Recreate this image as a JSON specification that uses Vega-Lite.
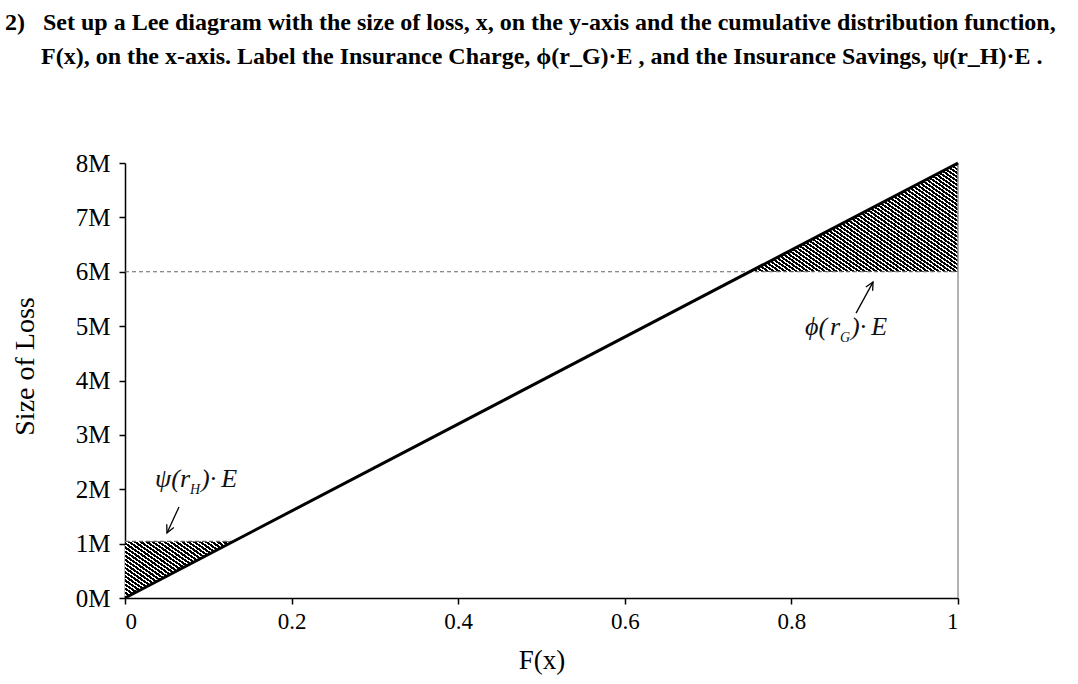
{
  "$schema": "https://vega.github.io/schema/vega-lite/v6.json",
  "autosize": "none",
  "width": 833,
  "height": 435,
  "padding": {"left": 125, "top": 163, "right": 120, "bottom": 86},
  "background": "white",
  "config": {"view": {"stroke": null}, "axis": {"grid": false}},
  "title": {
    "text": [
      "2)\u00a0\u00a0\u00a0Set up a Lee diagram with the size of loss, x, on the y-axis and the cumulative distribution function,",
      "\u200b\u00a0\u00a0\u00a0\u00a0\u00a0\u00a0F(x), on the x-axis. Label the Insurance Charge, \u03d5(r_G)\u00b7E , and the Insurance Savings, \u03c8(r_H)\u00b7E ."
    ],
    "anchor": "start",
    "frame": "group",
    "dx": -120,
    "offset": 82,
    "font": "Liberation Serif",
    "fontSize": 24,
    "fontWeight": "bold",
    "color": "#000",
    "lineHeight": 34
  },
  "datasets": {
    "line": [{"F": 0, "loss": 0}, {"F": 1, "loss": 8000000}],
    "charge": [{"F": 0.75, "loss": 6000000, "base": 6000000}, {"F": 1, "loss": 8000000, "base": 6000000}],
    "savings": [{"F": 0, "loss": 0, "base": 1040000}, {"F": 0.13, "loss": 1040000, "base": 1040000}],
    "dashes": [{"F": 0, "F2": 1, "loss": 6000000}, {"F": 0, "F2": 0.13, "loss": 1040000}],
    "edge": [{"F": 1, "loss": 0, "loss2": 8000000}],
    "arrows": [
      {"name": "charge", "F": 0.8776, "loss": 5240000, "F2": 0.898, "loss2": 5810000},
      {"name": "savings", "F": 0.0648, "loss": 1674000, "F2": 0.0504, "loss2": 1195000}
    ],
    "labels": [
      {"name": "savings", "F": 0.036, "loss": 2040000, "a": "\u03c8(", "r": "r", "s": "H", "b": ")\u00b7\u2009E"},
      {"name": "charge", "F": 0.8163, "loss": 4837000, "a": "\u03d5(", "r": "r", "s": "G", "b": ")\u00b7\u2009E"}
    ]
  },
  "layer": [
    {
      "data": {"name": "line"},
      "mark": {"type": "line", "opacity": 0},
      "encoding": {
        "x": {
          "field": "F", "type": "quantitative",
          "scale": {"domain": [0, 1], "nice": false},
          "axis": {
            "values": [0, 0.2, 0.4, 0.6, 0.8, 1], "format": "~g",
            "title": "F(x)", "titleFont": "Liberation Serif", "titleFontSize": 27, "titleFontWeight": "normal", "titleColor": "#000", "titlePadding": 14,
            "labelFont": "Liberation Serif", "labelFontSize": 23, "labelColor": "#000", "labelPadding": 6,
            "domainColor": "#000", "domainWidth": 1.5, "tickColor": "#000", "tickWidth": 1.5, "tickSize": 6
          }
        },
        "y": {
          "field": "loss", "type": "quantitative",
          "scale": {"domain": [0, 8000000], "nice": false},
          "axis": {
            "values": [0, 1000000, 2000000, 3000000, 4000000, 5000000, 6000000, 7000000, 8000000],
            "labelExpr": "(datum.value / 1000000) + 'M'",
            "title": "Size of Loss", "titleFont": "Liberation Serif", "titleFontSize": 28, "titleFontWeight": "normal", "titleColor": "#000", "titlePadding": 36, "titleY": 203,
            "labelFont": "Liberation Serif", "labelFontSize": 25, "labelColor": "#000", "labelPadding": 9,
            "domainColor": "#000", "domainWidth": 1.5, "tickColor": "#000", "tickWidth": 1.5, "tickSize": 6
          }
        }
      }
    },
    {
      "data": {"name": "charge"},
      "mark": {
        "type": "area",
        "color": {
          "gradient": "linear", "x1": 0, "y1": 1, "x2": 1.12, "y2": 0.16,
          "stops": [
            {"offset":0,"color":"#000"},{"offset":0.0094,"color":"#000"},{"offset":0.0094,"color":"#fff"},
            {"offset":0.0156,"color":"#fff"},{"offset":0.0156,"color":"#000"},{"offset":0.025,"color":"#000"},{"offset":0.025,"color":"#fff"},
            {"offset":0.0313,"color":"#fff"},{"offset":0.0313,"color":"#000"},{"offset":0.0406,"color":"#000"},{"offset":0.0406,"color":"#fff"},
            {"offset":0.0469,"color":"#fff"},{"offset":0.0469,"color":"#000"},{"offset":0.0563,"color":"#000"},{"offset":0.0563,"color":"#fff"},
            {"offset":0.0625,"color":"#fff"},{"offset":0.0625,"color":"#000"},{"offset":0.0719,"color":"#000"},{"offset":0.0719,"color":"#fff"},
            {"offset":0.0781,"color":"#fff"},{"offset":0.0781,"color":"#000"},{"offset":0.0875,"color":"#000"},{"offset":0.0875,"color":"#fff"},
            {"offset":0.0938,"color":"#fff"},{"offset":0.0938,"color":"#000"},{"offset":0.1031,"color":"#000"},{"offset":0.1031,"color":"#fff"},
            {"offset":0.1094,"color":"#fff"},{"offset":0.1094,"color":"#000"},{"offset":0.1188,"color":"#000"},{"offset":0.1188,"color":"#fff"},
            {"offset":0.125,"color":"#fff"},{"offset":0.125,"color":"#000"},{"offset":0.1344,"color":"#000"},{"offset":0.1344,"color":"#fff"},
            {"offset":0.1406,"color":"#fff"},{"offset":0.1406,"color":"#000"},{"offset":0.15,"color":"#000"},{"offset":0.15,"color":"#fff"},
            {"offset":0.1563,"color":"#fff"},{"offset":0.1563,"color":"#000"},{"offset":0.1656,"color":"#000"},{"offset":0.1656,"color":"#fff"},
            {"offset":0.1719,"color":"#fff"},{"offset":0.1719,"color":"#000"},{"offset":0.1813,"color":"#000"},{"offset":0.1813,"color":"#fff"},
            {"offset":0.1875,"color":"#fff"},{"offset":0.1875,"color":"#000"},{"offset":0.1969,"color":"#000"},{"offset":0.1969,"color":"#fff"},
            {"offset":0.2031,"color":"#fff"},{"offset":0.2031,"color":"#000"},{"offset":0.2125,"color":"#000"},{"offset":0.2125,"color":"#fff"},
            {"offset":0.2188,"color":"#fff"},{"offset":0.2188,"color":"#000"},{"offset":0.2281,"color":"#000"},{"offset":0.2281,"color":"#fff"},
            {"offset":0.2344,"color":"#fff"},{"offset":0.2344,"color":"#000"},{"offset":0.2438,"color":"#000"},{"offset":0.2438,"color":"#fff"},
            {"offset":0.25,"color":"#fff"},{"offset":0.25,"color":"#000"},{"offset":0.2594,"color":"#000"},{"offset":0.2594,"color":"#fff"},
            {"offset":0.2656,"color":"#fff"},{"offset":0.2656,"color":"#000"},{"offset":0.275,"color":"#000"},{"offset":0.275,"color":"#fff"},
            {"offset":0.2813,"color":"#fff"},{"offset":0.2813,"color":"#000"},{"offset":0.2906,"color":"#000"},{"offset":0.2906,"color":"#fff"},
            {"offset":0.2969,"color":"#fff"},{"offset":0.2969,"color":"#000"},{"offset":0.3063,"color":"#000"},{"offset":0.3063,"color":"#fff"},
            {"offset":0.3125,"color":"#fff"},{"offset":0.3125,"color":"#000"},{"offset":0.3219,"color":"#000"},{"offset":0.3219,"color":"#fff"},
            {"offset":0.3281,"color":"#fff"},{"offset":0.3281,"color":"#000"},{"offset":0.3375,"color":"#000"},{"offset":0.3375,"color":"#fff"},
            {"offset":0.3438,"color":"#fff"},{"offset":0.3438,"color":"#000"},{"offset":0.3531,"color":"#000"},{"offset":0.3531,"color":"#fff"},
            {"offset":0.3594,"color":"#fff"},{"offset":0.3594,"color":"#000"},{"offset":0.3688,"color":"#000"},{"offset":0.3688,"color":"#fff"},
            {"offset":0.375,"color":"#fff"},{"offset":0.375,"color":"#000"},{"offset":0.3844,"color":"#000"},{"offset":0.3844,"color":"#fff"},
            {"offset":0.3906,"color":"#fff"},{"offset":0.3906,"color":"#000"},{"offset":0.4,"color":"#000"},{"offset":0.4,"color":"#fff"},
            {"offset":0.4063,"color":"#fff"},{"offset":0.4063,"color":"#000"},{"offset":0.4156,"color":"#000"},{"offset":0.4156,"color":"#fff"},
            {"offset":0.4219,"color":"#fff"},{"offset":0.4219,"color":"#000"},{"offset":0.4313,"color":"#000"},{"offset":0.4313,"color":"#fff"},
            {"offset":0.4375,"color":"#fff"},{"offset":0.4375,"color":"#000"},{"offset":0.4469,"color":"#000"},{"offset":0.4469,"color":"#fff"},
            {"offset":0.4531,"color":"#fff"},{"offset":0.4531,"color":"#000"},{"offset":0.4625,"color":"#000"},{"offset":0.4625,"color":"#fff"},
            {"offset":0.4688,"color":"#fff"},{"offset":0.4688,"color":"#000"},{"offset":0.4781,"color":"#000"},{"offset":0.4781,"color":"#fff"},
            {"offset":0.4844,"color":"#fff"},{"offset":0.4844,"color":"#000"},{"offset":0.4938,"color":"#000"},{"offset":0.4938,"color":"#fff"},
            {"offset":0.5,"color":"#fff"},{"offset":0.5,"color":"#000"},{"offset":0.5094,"color":"#000"},{"offset":0.5094,"color":"#fff"},
            {"offset":0.5156,"color":"#fff"},{"offset":0.5156,"color":"#000"},{"offset":0.525,"color":"#000"},{"offset":0.525,"color":"#fff"},
            {"offset":0.5313,"color":"#fff"},{"offset":0.5313,"color":"#000"},{"offset":0.5406,"color":"#000"},{"offset":0.5406,"color":"#fff"},
            {"offset":0.5469,"color":"#fff"},{"offset":0.5469,"color":"#000"},{"offset":0.5563,"color":"#000"},{"offset":0.5563,"color":"#fff"},
            {"offset":0.5625,"color":"#fff"},{"offset":0.5625,"color":"#000"},{"offset":0.5719,"color":"#000"},{"offset":0.5719,"color":"#fff"},
            {"offset":0.5781,"color":"#fff"},{"offset":0.5781,"color":"#000"},{"offset":0.5875,"color":"#000"},{"offset":0.5875,"color":"#fff"},
            {"offset":0.5938,"color":"#fff"},{"offset":0.5938,"color":"#000"},{"offset":0.6031,"color":"#000"},{"offset":0.6031,"color":"#fff"},
            {"offset":0.6094,"color":"#fff"},{"offset":0.6094,"color":"#000"},{"offset":0.6188,"color":"#000"},{"offset":0.6188,"color":"#fff"},
            {"offset":0.625,"color":"#fff"},{"offset":0.625,"color":"#000"},{"offset":0.6344,"color":"#000"},{"offset":0.6344,"color":"#fff"},
            {"offset":0.6406,"color":"#fff"},{"offset":0.6406,"color":"#000"},{"offset":0.65,"color":"#000"},{"offset":0.65,"color":"#fff"},
            {"offset":0.6563,"color":"#fff"},{"offset":0.6563,"color":"#000"},{"offset":0.6656,"color":"#000"},{"offset":0.6656,"color":"#fff"},
            {"offset":0.6719,"color":"#fff"},{"offset":0.6719,"color":"#000"},{"offset":0.6813,"color":"#000"},{"offset":0.6813,"color":"#fff"},
            {"offset":0.6875,"color":"#fff"},{"offset":0.6875,"color":"#000"},{"offset":0.6969,"color":"#000"},{"offset":0.6969,"color":"#fff"},
            {"offset":0.7031,"color":"#fff"},{"offset":0.7031,"color":"#000"},{"offset":0.7125,"color":"#000"},{"offset":0.7125,"color":"#fff"},
            {"offset":0.7188,"color":"#fff"},{"offset":0.7188,"color":"#000"},{"offset":0.7281,"color":"#000"},{"offset":0.7281,"color":"#fff"},
            {"offset":0.7344,"color":"#fff"},{"offset":0.7344,"color":"#000"},{"offset":0.7438,"color":"#000"},{"offset":0.7438,"color":"#fff"},
            {"offset":0.75,"color":"#fff"},{"offset":0.75,"color":"#000"},{"offset":0.7594,"color":"#000"},{"offset":0.7594,"color":"#fff"},
            {"offset":0.7656,"color":"#fff"},{"offset":0.7656,"color":"#000"},{"offset":0.775,"color":"#000"},{"offset":0.775,"color":"#fff"},
            {"offset":0.7813,"color":"#fff"},{"offset":0.7813,"color":"#000"},{"offset":0.7906,"color":"#000"},{"offset":0.7906,"color":"#fff"},
            {"offset":0.7969,"color":"#fff"},{"offset":0.7969,"color":"#000"},{"offset":0.8063,"color":"#000"},{"offset":0.8063,"color":"#fff"},
            {"offset":0.8125,"color":"#fff"},{"offset":0.8125,"color":"#000"},{"offset":0.8219,"color":"#000"},{"offset":0.8219,"color":"#fff"},
            {"offset":0.8281,"color":"#fff"},{"offset":0.8281,"color":"#000"},{"offset":0.8375,"color":"#000"},{"offset":0.8375,"color":"#fff"},
            {"offset":0.8438,"color":"#fff"},{"offset":0.8438,"color":"#000"},{"offset":0.8531,"color":"#000"},{"offset":0.8531,"color":"#fff"},
            {"offset":0.8594,"color":"#fff"},{"offset":0.8594,"color":"#000"},{"offset":0.8688,"color":"#000"},{"offset":0.8688,"color":"#fff"},
            {"offset":0.875,"color":"#fff"},{"offset":0.875,"color":"#000"},{"offset":0.8844,"color":"#000"},{"offset":0.8844,"color":"#fff"},
            {"offset":0.8906,"color":"#fff"},{"offset":0.8906,"color":"#000"},{"offset":0.9,"color":"#000"},{"offset":0.9,"color":"#fff"},
            {"offset":0.9063,"color":"#fff"},{"offset":0.9063,"color":"#000"},{"offset":0.9156,"color":"#000"},{"offset":0.9156,"color":"#fff"},
            {"offset":0.9219,"color":"#fff"},{"offset":0.9219,"color":"#000"},{"offset":0.9313,"color":"#000"},{"offset":0.9313,"color":"#fff"},
            {"offset":0.9375,"color":"#fff"},{"offset":0.9375,"color":"#000"},{"offset":0.9469,"color":"#000"},{"offset":0.9469,"color":"#fff"},
            {"offset":0.9531,"color":"#fff"},{"offset":0.9531,"color":"#000"},{"offset":0.9625,"color":"#000"},{"offset":0.9625,"color":"#fff"},
            {"offset":0.9688,"color":"#fff"},{"offset":0.9688,"color":"#000"},{"offset":0.9781,"color":"#000"},{"offset":0.9781,"color":"#fff"},
            {"offset":0.9844,"color":"#fff"},{"offset":0.9844,"color":"#000"},{"offset":0.9938,"color":"#000"},{"offset":0.9938,"color":"#fff"},
            {"offset":1,"color":"#fff"}
          ]
        }
      },
      "encoding": {
        "x": {"field": "F", "type": "quantitative"},
        "y": {"field": "loss", "type": "quantitative"},
        "y2": {"field": "base"}
      }
    },
    {
      "data": {"name": "savings"},
      "mark": {
        "type": "area",
        "color": {
          "gradient": "linear", "x1": 0, "y1": 1, "x2": 1.12, "y2": 0.16,
          "stops": [
            {"offset":0,"color":"#000"},{"offset":0.0188,"color":"#000"},{"offset":0.0188,"color":"#fff"},
            {"offset":0.0313,"color":"#fff"},{"offset":0.0313,"color":"#000"},{"offset":0.05,"color":"#000"},{"offset":0.05,"color":"#fff"},
            {"offset":0.0625,"color":"#fff"},{"offset":0.0625,"color":"#000"},{"offset":0.0813,"color":"#000"},{"offset":0.0813,"color":"#fff"},
            {"offset":0.0938,"color":"#fff"},{"offset":0.0938,"color":"#000"},{"offset":0.1125,"color":"#000"},{"offset":0.1125,"color":"#fff"},
            {"offset":0.125,"color":"#fff"},{"offset":0.125,"color":"#000"},{"offset":0.1438,"color":"#000"},{"offset":0.1438,"color":"#fff"},
            {"offset":0.1563,"color":"#fff"},{"offset":0.1563,"color":"#000"},{"offset":0.175,"color":"#000"},{"offset":0.175,"color":"#fff"},
            {"offset":0.1875,"color":"#fff"},{"offset":0.1875,"color":"#000"},{"offset":0.2063,"color":"#000"},{"offset":0.2063,"color":"#fff"},
            {"offset":0.2188,"color":"#fff"},{"offset":0.2188,"color":"#000"},{"offset":0.2375,"color":"#000"},{"offset":0.2375,"color":"#fff"},
            {"offset":0.25,"color":"#fff"},{"offset":0.25,"color":"#000"},{"offset":0.2688,"color":"#000"},{"offset":0.2688,"color":"#fff"},
            {"offset":0.2813,"color":"#fff"},{"offset":0.2813,"color":"#000"},{"offset":0.3,"color":"#000"},{"offset":0.3,"color":"#fff"},
            {"offset":0.3125,"color":"#fff"},{"offset":0.3125,"color":"#000"},{"offset":0.3313,"color":"#000"},{"offset":0.3313,"color":"#fff"},
            {"offset":0.3438,"color":"#fff"},{"offset":0.3438,"color":"#000"},{"offset":0.3625,"color":"#000"},{"offset":0.3625,"color":"#fff"},
            {"offset":0.375,"color":"#fff"},{"offset":0.375,"color":"#000"},{"offset":0.3938,"color":"#000"},{"offset":0.3938,"color":"#fff"},
            {"offset":0.4063,"color":"#fff"},{"offset":0.4063,"color":"#000"},{"offset":0.425,"color":"#000"},{"offset":0.425,"color":"#fff"},
            {"offset":0.4375,"color":"#fff"},{"offset":0.4375,"color":"#000"},{"offset":0.4563,"color":"#000"},{"offset":0.4563,"color":"#fff"},
            {"offset":0.4688,"color":"#fff"},{"offset":0.4688,"color":"#000"},{"offset":0.4875,"color":"#000"},{"offset":0.4875,"color":"#fff"},
            {"offset":0.5,"color":"#fff"},{"offset":0.5,"color":"#000"},{"offset":0.5188,"color":"#000"},{"offset":0.5188,"color":"#fff"},
            {"offset":0.5313,"color":"#fff"},{"offset":0.5313,"color":"#000"},{"offset":0.55,"color":"#000"},{"offset":0.55,"color":"#fff"},
            {"offset":0.5625,"color":"#fff"},{"offset":0.5625,"color":"#000"},{"offset":0.5813,"color":"#000"},{"offset":0.5813,"color":"#fff"},
            {"offset":0.5938,"color":"#fff"},{"offset":0.5938,"color":"#000"},{"offset":0.6125,"color":"#000"},{"offset":0.6125,"color":"#fff"},
            {"offset":0.625,"color":"#fff"},{"offset":0.625,"color":"#000"},{"offset":0.6438,"color":"#000"},{"offset":0.6438,"color":"#fff"},
            {"offset":0.6563,"color":"#fff"},{"offset":0.6563,"color":"#000"},{"offset":0.675,"color":"#000"},{"offset":0.675,"color":"#fff"},
            {"offset":0.6875,"color":"#fff"},{"offset":0.6875,"color":"#000"},{"offset":0.7063,"color":"#000"},{"offset":0.7063,"color":"#fff"},
            {"offset":0.7188,"color":"#fff"},{"offset":0.7188,"color":"#000"},{"offset":0.7375,"color":"#000"},{"offset":0.7375,"color":"#fff"},
            {"offset":0.75,"color":"#fff"},{"offset":0.75,"color":"#000"},{"offset":0.7688,"color":"#000"},{"offset":0.7688,"color":"#fff"},
            {"offset":0.7813,"color":"#fff"},{"offset":0.7813,"color":"#000"},{"offset":0.8,"color":"#000"},{"offset":0.8,"color":"#fff"},
            {"offset":0.8125,"color":"#fff"},{"offset":0.8125,"color":"#000"},{"offset":0.8313,"color":"#000"},{"offset":0.8313,"color":"#fff"},
            {"offset":0.8438,"color":"#fff"},{"offset":0.8438,"color":"#000"},{"offset":0.8625,"color":"#000"},{"offset":0.8625,"color":"#fff"},
            {"offset":0.875,"color":"#fff"},{"offset":0.875,"color":"#000"},{"offset":0.8938,"color":"#000"},{"offset":0.8938,"color":"#fff"},
            {"offset":0.9063,"color":"#fff"},{"offset":0.9063,"color":"#000"},{"offset":0.925,"color":"#000"},{"offset":0.925,"color":"#fff"},
            {"offset":0.9375,"color":"#fff"},{"offset":0.9375,"color":"#000"},{"offset":0.9563,"color":"#000"},{"offset":0.9563,"color":"#fff"},
            {"offset":0.9688,"color":"#fff"},{"offset":0.9688,"color":"#000"},{"offset":0.9875,"color":"#000"},{"offset":0.9875,"color":"#fff"},
            {"offset":1,"color":"#fff"}
          ]
        }
      },
      "encoding": {
        "x": {"field": "F", "type": "quantitative"},
        "y": {"field": "loss", "type": "quantitative"},
        "y2": {"field": "base"}
      }
    },
    {
      "data": {"name": "dashes"},
      "mark": {"type": "rule", "color": "#666", "strokeWidth": 1.2, "strokeDash": [4, 3]},
      "encoding": {
        "x": {"field": "F", "type": "quantitative"},
        "x2": {"field": "F2"},
        "y": {"field": "loss", "type": "quantitative"}
      }
    },
    {
      "data": {"name": "edge"},
      "mark": {"type": "rule", "color": "#999", "strokeWidth": 1.5},
      "encoding": {
        "x": {"field": "F", "type": "quantitative"},
        "y": {"field": "loss", "type": "quantitative"},
        "y2": {"field": "loss2"}
      }
    },
    {
      "data": {"name": "line"},
      "mark": {"type": "line", "color": "#000", "strokeWidth": 3},
      "encoding": {
        "x": {"field": "F", "type": "quantitative"},
        "y": {"field": "loss", "type": "quantitative"}
      }
    },
    {
      "data": {"name": "arrows"},
      "mark": {"type": "rule", "color": "#000", "strokeWidth": 1.3},
      "encoding": {
        "x": {"field": "F", "type": "quantitative"},
        "y": {"field": "loss", "type": "quantitative"},
        "x2": {"field": "F2"},
        "y2": {"field": "loss2"}
      }
    },
    {
      "data": {"name": "arrows"},
      "transform": [{"filter": "datum.name == 'charge'"}],
      "mark": {"type": "point", "shape": "M-0.45,0.9L0,0L0.45,0.9", "filled": false, "stroke": "#000", "strokeWidth": 1.3, "size": 300, "angle": 29, "opacity": 1},
      "encoding": {
        "x": {"field": "F2", "type": "quantitative"},
        "y": {"field": "loss2", "type": "quantitative"}
      }
    },
    {
      "data": {"name": "arrows"},
      "transform": [{"filter": "datum.name == 'savings'"}],
      "mark": {"type": "point", "shape": "M-0.45,0.9L0,0L0.45,0.9", "filled": false, "stroke": "#000", "strokeWidth": 1.3, "size": 300, "angle": 205, "opacity": 1},
      "encoding": {
        "x": {"field": "F2", "type": "quantitative"},
        "y": {"field": "loss2", "type": "quantitative"}
      }
    },
    {
      "data": {"name": "labels"},
      "mark": {"type": "text", "align": "left", "baseline": "alphabetic", "font": "Liberation Serif", "fontStyle": "italic", "fontSize": 26, "color": "#111"},
      "encoding": {
        "x": {"field": "F", "type": "quantitative"},
        "y": {"field": "loss", "type": "quantitative"},
        "text": {"field": "a"}
      }
    },
    {
      "data": {"name": "labels"},
      "mark": {"type": "text", "align": "left", "baseline": "alphabetic", "font": "Liberation Serif", "fontStyle": "italic", "fontSize": 26, "color": "#111", "dx": 25},
      "encoding": {
        "x": {"field": "F", "type": "quantitative"},
        "y": {"field": "loss", "type": "quantitative"},
        "text": {"field": "r"}
      }
    },
    {
      "data": {"name": "labels"},
      "mark": {"type": "text", "align": "left", "baseline": "alphabetic", "font": "Liberation Serif", "fontStyle": "italic", "fontSize": 14, "color": "#111", "dx": 35, "dy": 7},
      "encoding": {
        "x": {"field": "F", "type": "quantitative"},
        "y": {"field": "loss", "type": "quantitative"},
        "text": {"field": "s"}
      }
    },
    {
      "data": {"name": "labels"},
      "mark": {"type": "text", "align": "left", "baseline": "alphabetic", "font": "Liberation Serif", "fontStyle": "italic", "fontSize": 26, "color": "#111", "dx": 46},
      "encoding": {
        "x": {"field": "F", "type": "quantitative"},
        "y": {"field": "loss", "type": "quantitative"},
        "text": {"field": "b"}
      }
    }
  ]
}
